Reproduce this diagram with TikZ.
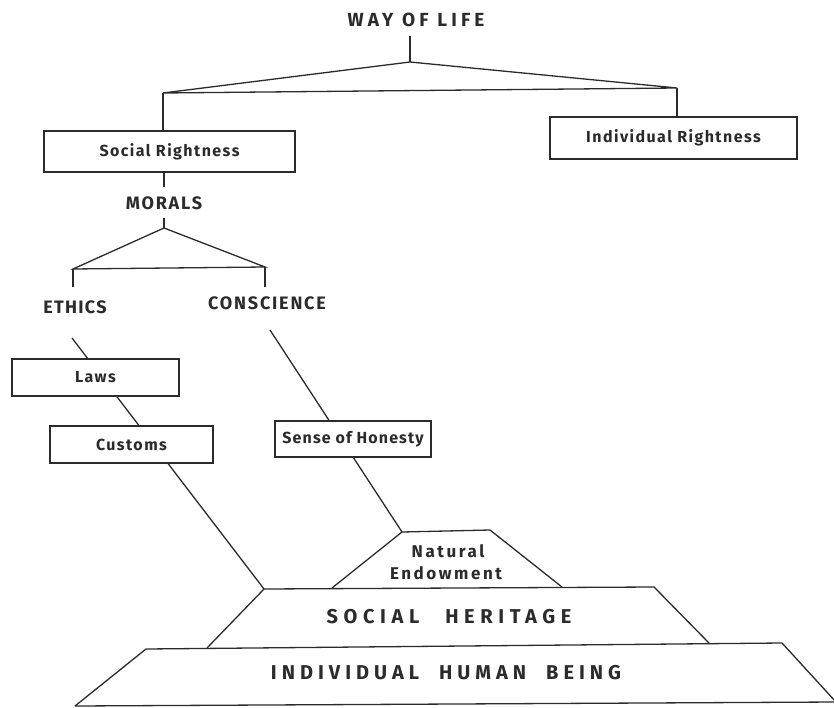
\documentclass[tikz,border=0pt]{standalone}
\usepackage{fontspec}
\setmainfont{Fira Sans}
\definecolor{ink}{HTML}{2B2B2B}
\begin{document}
\begin{tikzpicture}[x=1pt,y=-1pt]
\useasboundingbox[fill=white] (0,0) rectangle (834,708);
\tikzset{
  ln/.style={draw=ink, line width=1.3pt, line join=miter},
  box/.style={draw=ink, fill=white, line width=1.3pt, inner sep=0pt, text=ink,
     font=\bfseries\fontsize{16}{18}\selectfont\addfontfeatures{LetterSpace=9}},
  lbl/.style={text=ink, inner sep=0pt},
  capA/.style={lbl, font=\bfseries\fontsize{18}{20}\selectfont\addfontfeatures{LetterSpace=10}},
  capB/.style={lbl, font=\bfseries\fontsize{20}{22}\selectfont\addfontfeatures{LetterSpace=28}},
  natl/.style={lbl, font=\bfseries\fontsize{17}{19}\selectfont\addfontfeatures{LetterSpace=15}},
}
% ---- top tree
\node[lbl, font=\bfseries\fontsize{19}{21}\selectfont\addfontfeatures{LetterSpace=22}] (way) at (416,20) {WAY OF LIFE};
\coordinate (w0) at (410,36);
\coordinate (a1) at (410,62);
\coordinate (l1) at (163,93);
\coordinate (r1) at (677,88);
\node[box, minimum width=251pt, minimum height=41pt] (soc) at (169.5,151.5) {Social Rightness};
\node[box, minimum width=247pt, minimum height=42pt] (ind) at (673.5,138) {Individual Rightness};
\draw[ln] (w0) -- (a1);
\draw[ln] (a1) -- (l1) -- (r1) -- cycle;
\draw[ln] (l1) -- (l1 |- soc.north);
\draw[ln] (r1) -- (r1 |- ind.north);
% ---- morals
\node[capA] (mor) at (164,203) {MORALS};
\coordinate (m0) at (164,218);
\coordinate (a2) at (164,228);
\coordinate (l2) at (73,269);
\coordinate (r2) at (265,267);
\coordinate (l3) at (73,287);
\coordinate (r3) at (265,287);
\draw[ln] (164,172) -- (164,187);
\draw[ln] (m0) -- (a2);
\draw[ln] (a2) -- (l2) -- (r2) -- cycle;
\draw[ln] (l2) -- (l3);
\draw[ln] (r2) -- (r3);
\node[capA, font=\bfseries\fontsize{18}{20}\selectfont\addfontfeatures{LetterSpace=7}] (eth) at (75,307) {ETHICS};
\node[capA] (con) at (267,303) {CONSCIENCE};
% ---- pyramid coordinates
\coordinate (neA) at (402,532);
\coordinate (neB) at (490,530);
\coordinate (neC) at (562,587);
\coordinate (neD) at (332,588);
\coordinate (shA) at (264,589);
\coordinate (shB) at (654,587);
\coordinate (shC) at (709,643);
\coordinate (shD) at (207,648);
\coordinate (ihA) at (146,649);
\coordinate (ihB) at (782,643);
\coordinate (ihC) at (836,702);
\coordinate (ihD) at (75,706);
\coordinate (e0) at (72,338);
\coordinate (c0) at (270,330);
% ---- long connectors (boxes drawn over them)
\draw[ln] (e0) -- (shA);
\draw[ln] (c0) -- (neA);
\node[box, minimum width=167pt, minimum height=37pt] (laws) at (95.5,377.5) {Laws};
\node[box, minimum width=163pt, minimum height=37pt] (cust) at (131.5,444.5) {Customs};
\node[box, minimum width=156pt, minimum height=36pt, font=\bfseries\fontsize{16}{18}\selectfont\addfontfeatures{LetterSpace=7}] (hon) at (353,439) {Sense of Honesty};
% ---- pyramid
\draw[ln] (neD) -- (neA) -- (neB) -- (neC);
\draw[ln] (shD) -- (shA) -- (shB) -- (shC);
\draw[ln] (ihD) -- (ihA) -- (ihB) -- (ihC);
\draw[ln] (ihD) -- (ihC);
\node[natl] (nat) at (448,551) {Natural};
\node[natl] (end) at (446,573) {Endowment};
\node[capB] (sh) at (449,617) {SOCIAL\hspace{1.3em}HERITAGE};
\node[capB, font=\bfseries\fontsize{20}{22}\selectfont\addfontfeatures{LetterSpace=25}] (ih) at (446,673) {INDIVIDUAL\hspace{1em}HUMAN\hspace{1em}BEING};
\end{tikzpicture}
\end{document}
